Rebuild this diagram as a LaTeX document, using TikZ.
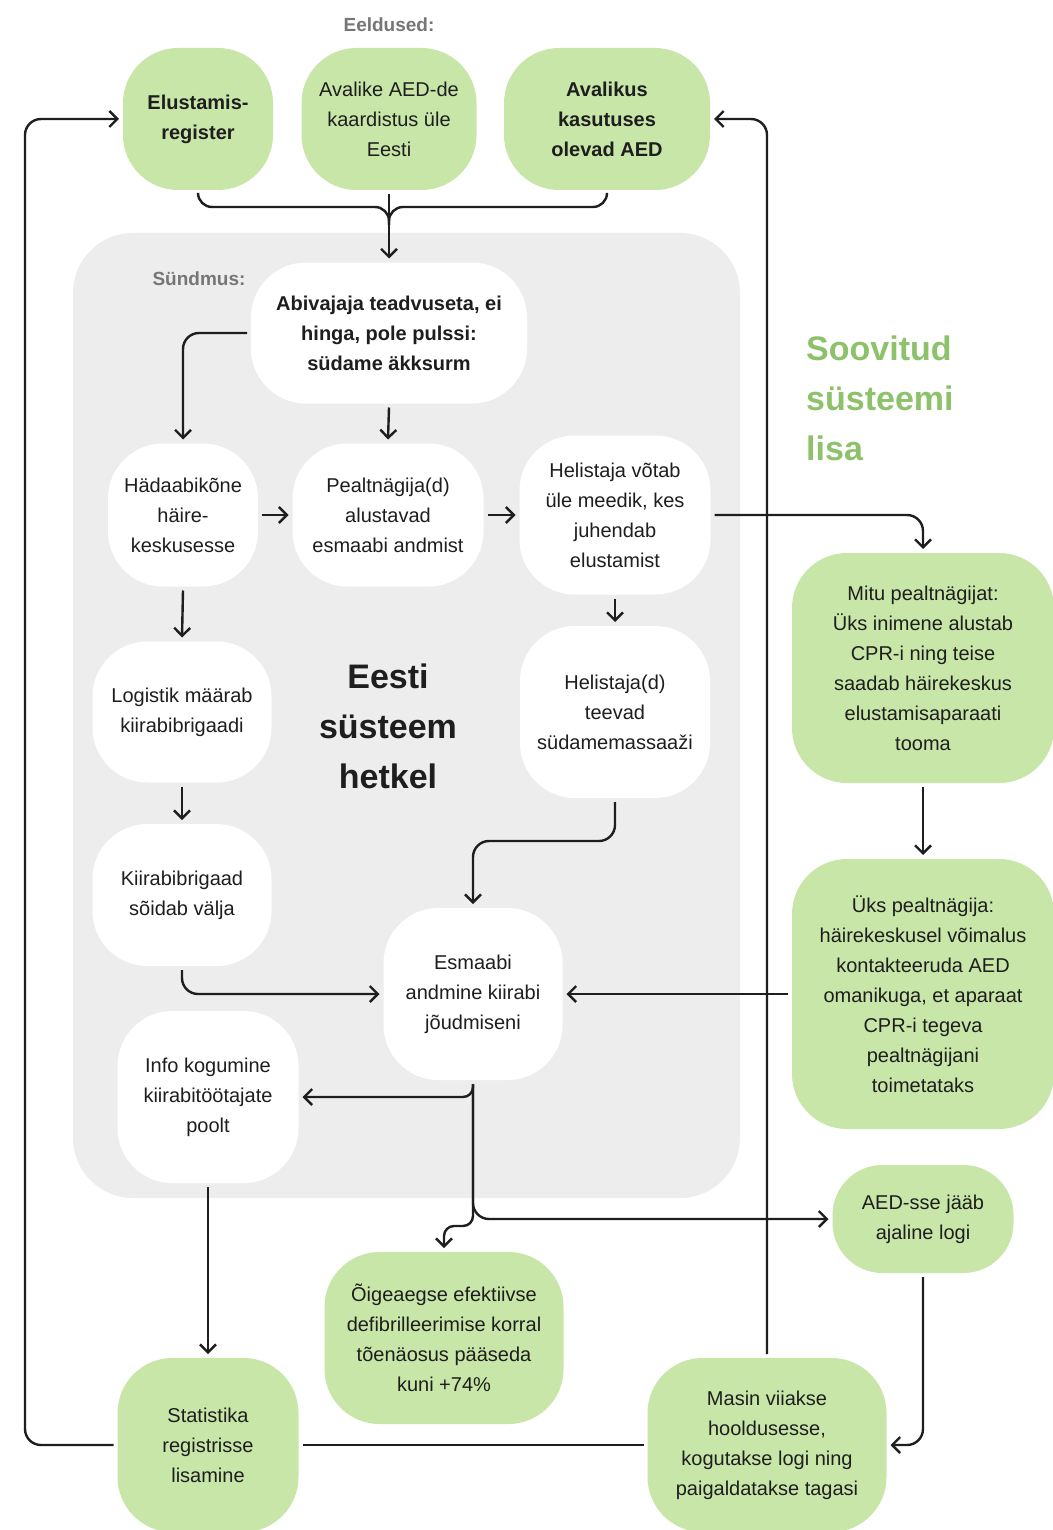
\documentclass[tikz,border=0pt]{standalone}
\usepackage{fontspec}
\setmainfont{Liberation Sans}
\usetikzlibrary{arrows.meta,calc}
\definecolor{grn}{HTML}{C9E6A9}
\definecolor{bgg}{HTML}{EDEDED}
\definecolor{ink}{HTML}{1E1E1E}
\definecolor{titlegray}{HTML}{767676}
\definecolor{titlegreen}{HTML}{8DC26B}
\tikzset{
  base/.style={align=center, inner sep=0pt, outer sep=4pt, text=ink, font=\fontsize{20}{30}\selectfont},
  wb/.style={base, fill=white, rounded corners=55pt},
  gb/.style={base, fill=grn, rounded corners=55pt},
  bf/.style={font=\fontsize{20}{30}\selectfont\bfseries},
  sz/.style 2 args={minimum width=#1, minimum height=#2},
  ln/.style={draw=ink, line width=2.4pt, rounded corners=16pt},
  arr/.style={-{Straight Barb[length=8pt,width=16pt]}},
  heading/.style={font=\fontsize{19}{22}\selectfont\bfseries, text=titlegray, inner sep=0pt},
  bigtitle/.style={font=\fontsize{34}{50}\selectfont\bfseries, inner sep=0pt}
}
\begin{document}
\begin{tikzpicture}[x=1pt,y=-1pt]
\useasboundingbox (0,0) rectangle (1052,1530);
\fill[white] (0,0) rectangle (1052,1530);
% background panel
\fill[bgg, rounded corners=60pt] (73,233) rectangle (740,1198);

% headings
\node[heading] (eel) at (389,25) {Eeldused:};
\node[heading] (sund) at (199,279) {Sündmus:};
\node[bigtitle, align=center, text=ink] (eesti) at (388,726) {Eesti\\süsteem\\hetkel};
\node[bigtitle, align=left, text=titlegreen, anchor=west] (soov) at (806,398) {Soovitud\\süsteemi\\lisa};

% top row
\node[gb, bf, sz={150pt}{142pt}] (elu) at (198,119) {Elustamis-\\register};
\node[gb, sz={175pt}{142pt}] (kaa) at (389,119) {Avalike AED-de\\kaardistus üle\\Eesti};
\node[gb, bf, sz={206pt}{142pt}] (ava) at (607,119) {Avalikus\\kasutuses\\olevad AED};

% inner system
\node[wb, bf, sz={276pt}{141pt}] (abi) at (389,333) {Abivajaja teadvuseta, ei\\hinga, pole pulssi:\\südame äkksurm};
\node[wb, sz={150pt}{143pt}] (had) at (183,515) {Hädaabikõne\\häire-\\keskusesse};
\node[wb, sz={191pt}{143pt}] (pea) at (388,515) {Pealtnägija(d)\\alustavad\\esmaabi andmist};
\node[wb, sz={191pt}{159pt}] (hel) at (615,515) {Helistaja võtab\\üle meedik, kes\\juhendab\\elustamist};
\node[wb, sz={179pt}{141pt}] (log) at (182,712) {Logistik määrab\\kiirabibrigaadi};
\node[wb, sz={190pt}{172pt}] (hd) at (615,712) {Helistaja(d)\\teevad\\südamemassaaži};
\node[wb, sz={179pt}{142pt}] (kb) at (182,895) {Kiirabibrigaad\\sõidab välja};
\node[wb, sz={179pt}{172pt}] (esm) at (473,994) {Esmaabi\\andmine kiirabi\\jõudmiseni};
\node[wb, sz={181pt}{172pt}] (info) at (208,1097) {Info kogumine\\kiirabitöötajate\\poolt};

% recommended additions
\node[gb, sz={262pt}{230pt}] (mitu) at (923,668) {Mitu pealtnägijat:\\Üks inimene alustab\\CPR-i ning teise\\saadab häirekeskus\\elustamisaparaati\\tooma};
\node[gb, sz={262pt}{270pt}] (yks) at (923,994) {Üks pealtnägija:\\häirekeskusel võimalus\\kontakteeruda AED\\omanikuga, et aparaat\\CPR-i tegeva\\pealtnägijani\\toimetataks};
\node[gb, sz={181pt}{108pt}, rounded corners=50pt] (aed) at (923,1219) {AED-sse jääb\\ajaline logi};
\node[gb, sz={239pt}{172pt}] (oig) at (444,1338) {Õigeaegse efektiivse\\defibrilleerimise korral\\tõenäosus pääseda\\kuni +74\%};
\node[gb, sz={181pt}{174pt}] (stat) at (208,1445) {Statistika\\registrisse\\lisamine};
\node[gb, sz={239pt}{174pt}] (mas) at (767,1445) {Masin viiakse\\hooldusesse,\\kogutakse logi ning\\paigaldatakse tagasi};

% helper coordinates
\coordinate (m) at (389,207);
\coordinate (c1) at (0,841);
\coordinate (j) at (444,1226);
\coordinate (lx) at (25,800);

% top merge
\draw[ln, rounded corners=14pt] (elu.south) |- (m) -- ($(m)+(0,18)$);
\draw[ln, rounded corners=14pt] (ava.south) |- (m) -- ($(m)+(0,18)$);
\draw[ln, arr] (kaa.south) -- (abi.north);

% inner flow
\draw[ln, arr] (abi.west) -| (had.north);
\draw[ln, arr] (abi.south) -- (pea.north);
\draw[ln, arr] (had.east) -- (pea.west);
\draw[ln, arr] (pea.east) -- (hel.west);
\draw[ln, arr] (hel.south) -- (hd.north);
\draw[ln, arr] (had.south) -- (log.north);
\draw[ln, arr] (log.south) -- (kb.north);
\draw[ln, arr] (hd.south) |- (c1 -| esm.north) -- (esm.north);
\draw[ln, arr] (kb.south) |- (esm.west);
\draw[ln, arr] (yks.west) -- (esm.east);
\draw[ln, arr, rounded corners=10pt] (esm.south) |- (info.east);
\draw[ln, arr] (esm.south) |- (aed.west);
\draw[ln, arr, rounded corners=10pt] (esm.south) |- (j) -- (oig.north);

% recommended flow
\draw[ln, arr] (hel.east) -| (mitu.north);
\draw[ln, arr] (mitu.south) -- (yks.north);
\draw[ln, arr] (info.south) -- (stat.north);
\draw[ln, arr] (aed.south) |- (mas.east);
\draw[ln] (stat.east) -- (mas.west);
\draw[ln, arr] (stat.west) -| (lx) |- (elu.west);
\draw[ln, arr] (mas.north) |- (ava.east);
\end{tikzpicture}
\end{document}
